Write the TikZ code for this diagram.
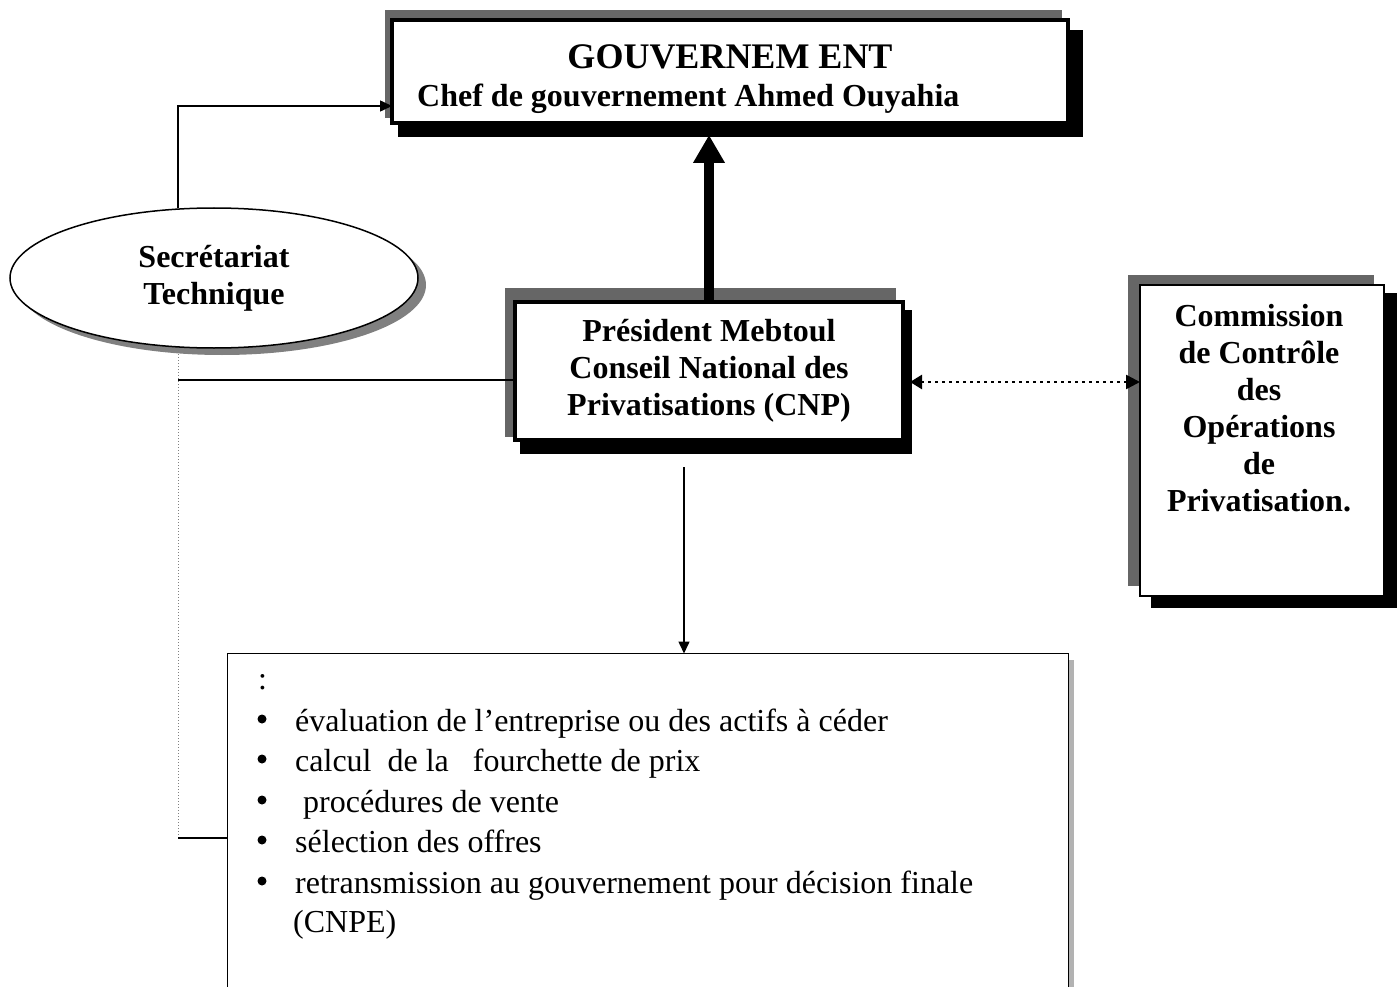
\documentclass[tikz,border=0pt]{standalone}
\usepackage{fontspec}
\setmainfont{Liberation Serif}
\usetikzlibrary{arrows.meta,calc,shapes.geometric}
\definecolor{shgray}{RGB}{102,102,102}
\definecolor{elgray}{RGB}{128,128,128}
\newcommand{\mybul}{\makebox[39pt][l]{}}
\begin{document}
\begin{tikzpicture}[x=1pt,y=-1pt,
  thickbox/.style={draw, line width=4pt, fill=white, inner sep=0pt, outer sep=0pt},
  thinbox/.style={draw, line width=2pt, fill=white, inner sep=0pt, outer sep=0pt},
  lbl/.style={inner sep=0pt, font=\fontsize{32}{37}\selectfont\bfseries, align=center},
  item/.style={inner sep=0pt, anchor=base west, font=\fontsize{32}{40}\selectfont},
  conn/.style={line width=1.5pt},
  tip/.style={-{Triangle[length=12pt,width=11pt]}},
  bulletdot/.style={fill=black}
]
\useasboundingbox (0,0) rectangle (1397,987);
\clip (0,0) rectangle (1397,987);

% Gouvernement
\fill[shgray] (385,10) rectangle (1062,118);
\fill[black] (398,30) rectangle (1083,137);
\node[thickbox, minimum width=676pt, minimum height=103pt] (gov) at (730,71.5) {};
\node[anchor=base, inner sep=0pt, font=\fontsize{36}{40}\selectfont\bfseries] (govt) at (730,69) {GOUVERNEM ENT};
\node[anchor=base west, inner sep=0pt, font=\fontsize{32}{37}\selectfont\bfseries] (chef) at (417,107) {Chef de gouvernement Ahmed Ouyahia};

% CNP
\fill[shgray] (505,288) rectangle (896,437);
\fill[black] (520,310) rectangle (912,454);
\node[thickbox, minimum width=388pt, minimum height=138pt] (cnp) at (709,371) {};
\node[lbl] (cnpt) at (709,370.5) {Président Mebtoul\\Conseil National des\\Privatisations (CNP)};

% Commission
\fill[shgray] (1128,275) rectangle (1374,586);
\fill[black] (1151,293) rectangle (1397,608);
\node[thinbox, minimum width=244pt, minimum height=311pt] (com) at (1262,440.5) {};
\node[lbl] (comt) at (1259,408) {Commission\\de Contrôle\\des\\Opérations\\de\\Privatisation.};

% Secretariat
\node[ellipse, fill=elgray, inner sep=0pt, minimum width=408pt, minimum height=140pt] (secsh) at (222,285) {};
\node[ellipse, draw, line width=1.5pt, fill=white, inner sep=0pt, outer sep=0pt, minimum width=408pt, minimum height=140pt, lbl] (sec) at (214,278) {Secrétariat\\Technique};

% bottom box
\fill[shgray!50] (1069,660) rectangle (1074,1000);
\node[thinbox, line width=1.5pt, minimum width=841pt, minimum height=400pt, anchor=north west] (bot) at (227.5,653.5) {};
\node[item] (l0) at (258,689) {:};
\node[item] (l1) at (256,731) {\mybul évaluation de l’entreprise ou des actifs à céder};
\node[item] (l2) at (256,771) {\mybul calcul\ \ de la\ \ \ fourchette de prix};
\node[item] (l3) at (256,812) {\mybul\ procédures de vente};
\node[item] (l4) at (256,852) {\mybul sélection des offres};
\node[item] (l5) at (256,893) {\mybul retransmission au gouvernement pour décision finale};
\node[item] (l6) at (293,932) {(CNPE)};
\foreach \n in {l1,l2,l3,l4,l5}
  \fill[bulletdot] ([shift={(6,-12)}]\n.base west) circle (4.5pt);

% connectors
\coordinate (tl) at (178,106);
\draw[conn, tip] (sec.north -| tl) -- (tl) -- (gov.west |- tl);
\coordinate (ml) at (178,380);
\draw[conn] (ml) -- (cnp.west |- ml);
\coordinate (bl) at (178,838);
\draw[line width=1pt, dotted, gray] (sec.south -| bl) -- (bl);
\draw[conn] (bl) -- (bot.west |- bl);

\draw[line width=10pt, -{Triangle[length=28pt,width=30pt]}] (cnp.north) -- ([shift={(0,12)}]cnp.north |- gov.south);

\coordinate (dy) at (0,382);
\draw[line width=2.5pt, dash pattern=on 2.5pt off 4.5pt,
  {Triangle[length=12pt,width=14pt]}-{Triangle[length=14pt,width=14pt]}] ($(cnp.east |- dy)+(7,0)$) -- (com.west |- dy);

\coordinate (ds) at (684,467);
\draw[conn, tip] (ds) -- (bot.north -| ds);
\end{tikzpicture}
\end{document}
